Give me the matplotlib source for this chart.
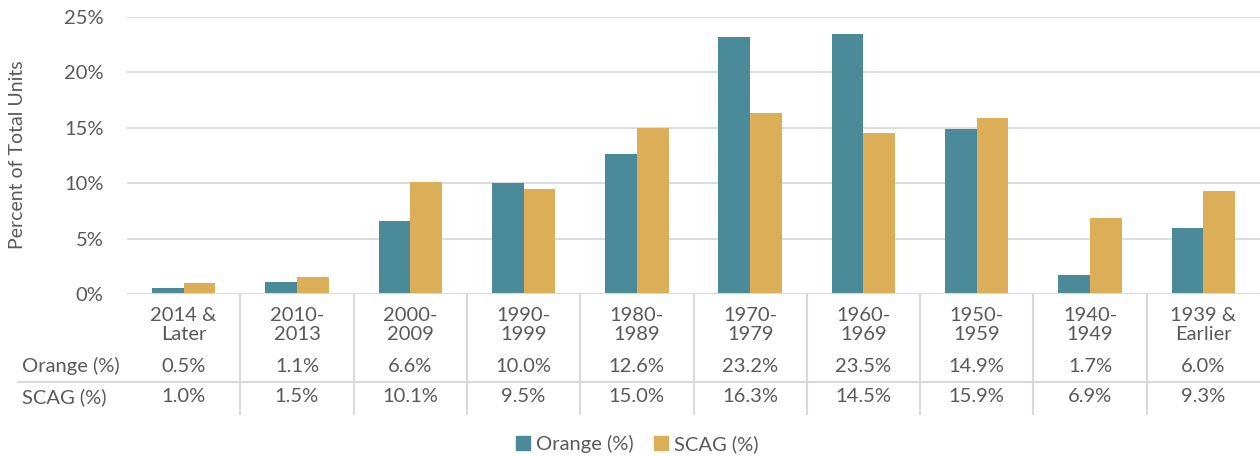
import matplotlib
matplotlib.use("Agg")
import matplotlib.pyplot as plt
import matplotlib.transforms as mtransforms
from matplotlib.patches import Patch
import numpy as np

categories = ["2014 &\nLater", "2010-\n2013", "2000-\n2009", "1990-\n1999", "1980-\n1989",
              "1970-\n1979", "1960-\n1969", "1950-\n1959", "1940-\n1949", "1939 &\nEarlier"]
orange = [0.5, 1.1, 6.6, 10.0, 12.6, 23.2, 23.5, 14.9, 1.7, 6.0]
scag = [1.0, 1.5, 10.1, 9.5, 15.0, 16.3, 14.5, 15.9, 6.9, 9.3]
series_names = ["Orange (%)", "SCAG (%)"]
yticks = [0, 5, 10, 15, 20, 25]

C_OR = "#4A8A99"
C_SC = "#DBAE57"
TXT = "#595959"
GRID = "#D9D9D9"
FS = 14.5

plt.rcParams['font.family'] = ['Lato', 'DejaVu Sans']

W, H = 1260, 457
fig = plt.figure(figsize=(W / 100, H / 100), dpi=100)
ax = fig.add_axes([127 / W, 1 - 294 / H, (1260 - 127) / W, (294 - 17) / H])

x = np.arange(len(categories))
bw = 0.28
ax.bar(x - bw / 2, orange, bw, color=C_OR, zorder=3)
ax.bar(x + bw / 2, scag, bw, color=C_SC, zorder=3)

ax.set_xlim(-0.5, len(categories) - 0.5)
ax.set_ylim(0, 25)
ax.set_yticks(yticks)
ax.set_yticklabels([f"{v}%" for v in yticks], fontsize=FS, color=TXT)
ax.tick_params(axis='y', length=0, pad=17)
ax.set_xticks([])
ax.grid(axis='y', color=GRID, linewidth=1.3, zorder=0)
for s in ax.spines.values():
    s.set_visible(False)
ax.axhline(0, color=GRID, linewidth=1.5, zorder=4)

fig.text(18 / W, 1 - 155 / H, "Percent of Total Units", rotation=90, fontsize=14,
         color=TXT, ha='center', va='center')

tr = mtransforms.blended_transform_factory(ax.transData, fig.transFigure)
def fy(py):
    return 1 - py / H

for i, c in enumerate(categories):
    ax.text(i, fy(325), c, transform=tr, ha='center', va='center', fontsize=FS,
            color=TXT, linespacing=1.15, clip_on=False)
    ax.text(i, fy(366), f"{orange[i]:.1f}%", transform=tr, ha='center', va='center',
            fontsize=FS, color=TXT, clip_on=False)
    ax.text(i, fy(397), f"{scag[i]:.1f}%", transform=tr, ha='center', va='center',
            fontsize=FS, color=TXT, clip_on=False)

fig.text(22 / W, fy(366), series_names[0], ha='left', va='center', fontsize=FS, color=TXT)
fig.text(22 / W, fy(397), series_names[1], ha='left', va='center', fontsize=FS, color=TXT)

for i in range(len(categories) - 1):
    ax.plot([i + 0.5, i + 0.5], [fy(294), fy(414)], transform=tr, color=GRID,
            linewidth=1.5, clip_on=False)
fig.add_artist(plt.Line2D([18 / W, 1.0], [fy(382), fy(382)], color=GRID, linewidth=1.5))

handles = [Patch(color=C_OR, label=series_names[0]), Patch(color=C_SC, label=series_names[1])]
leg = fig.legend(handles=handles, loc='center', bbox_to_anchor=(637 / W, fy(444)), ncol=2,
                 frameon=False, fontsize=FS, handlelength=0.7, handleheight=0.7,
                 handletextpad=0.3, columnspacing=1.0)
for t in leg.get_texts():
    t.set_color(TXT)

fig.savefig("out.png", dpi=100)
